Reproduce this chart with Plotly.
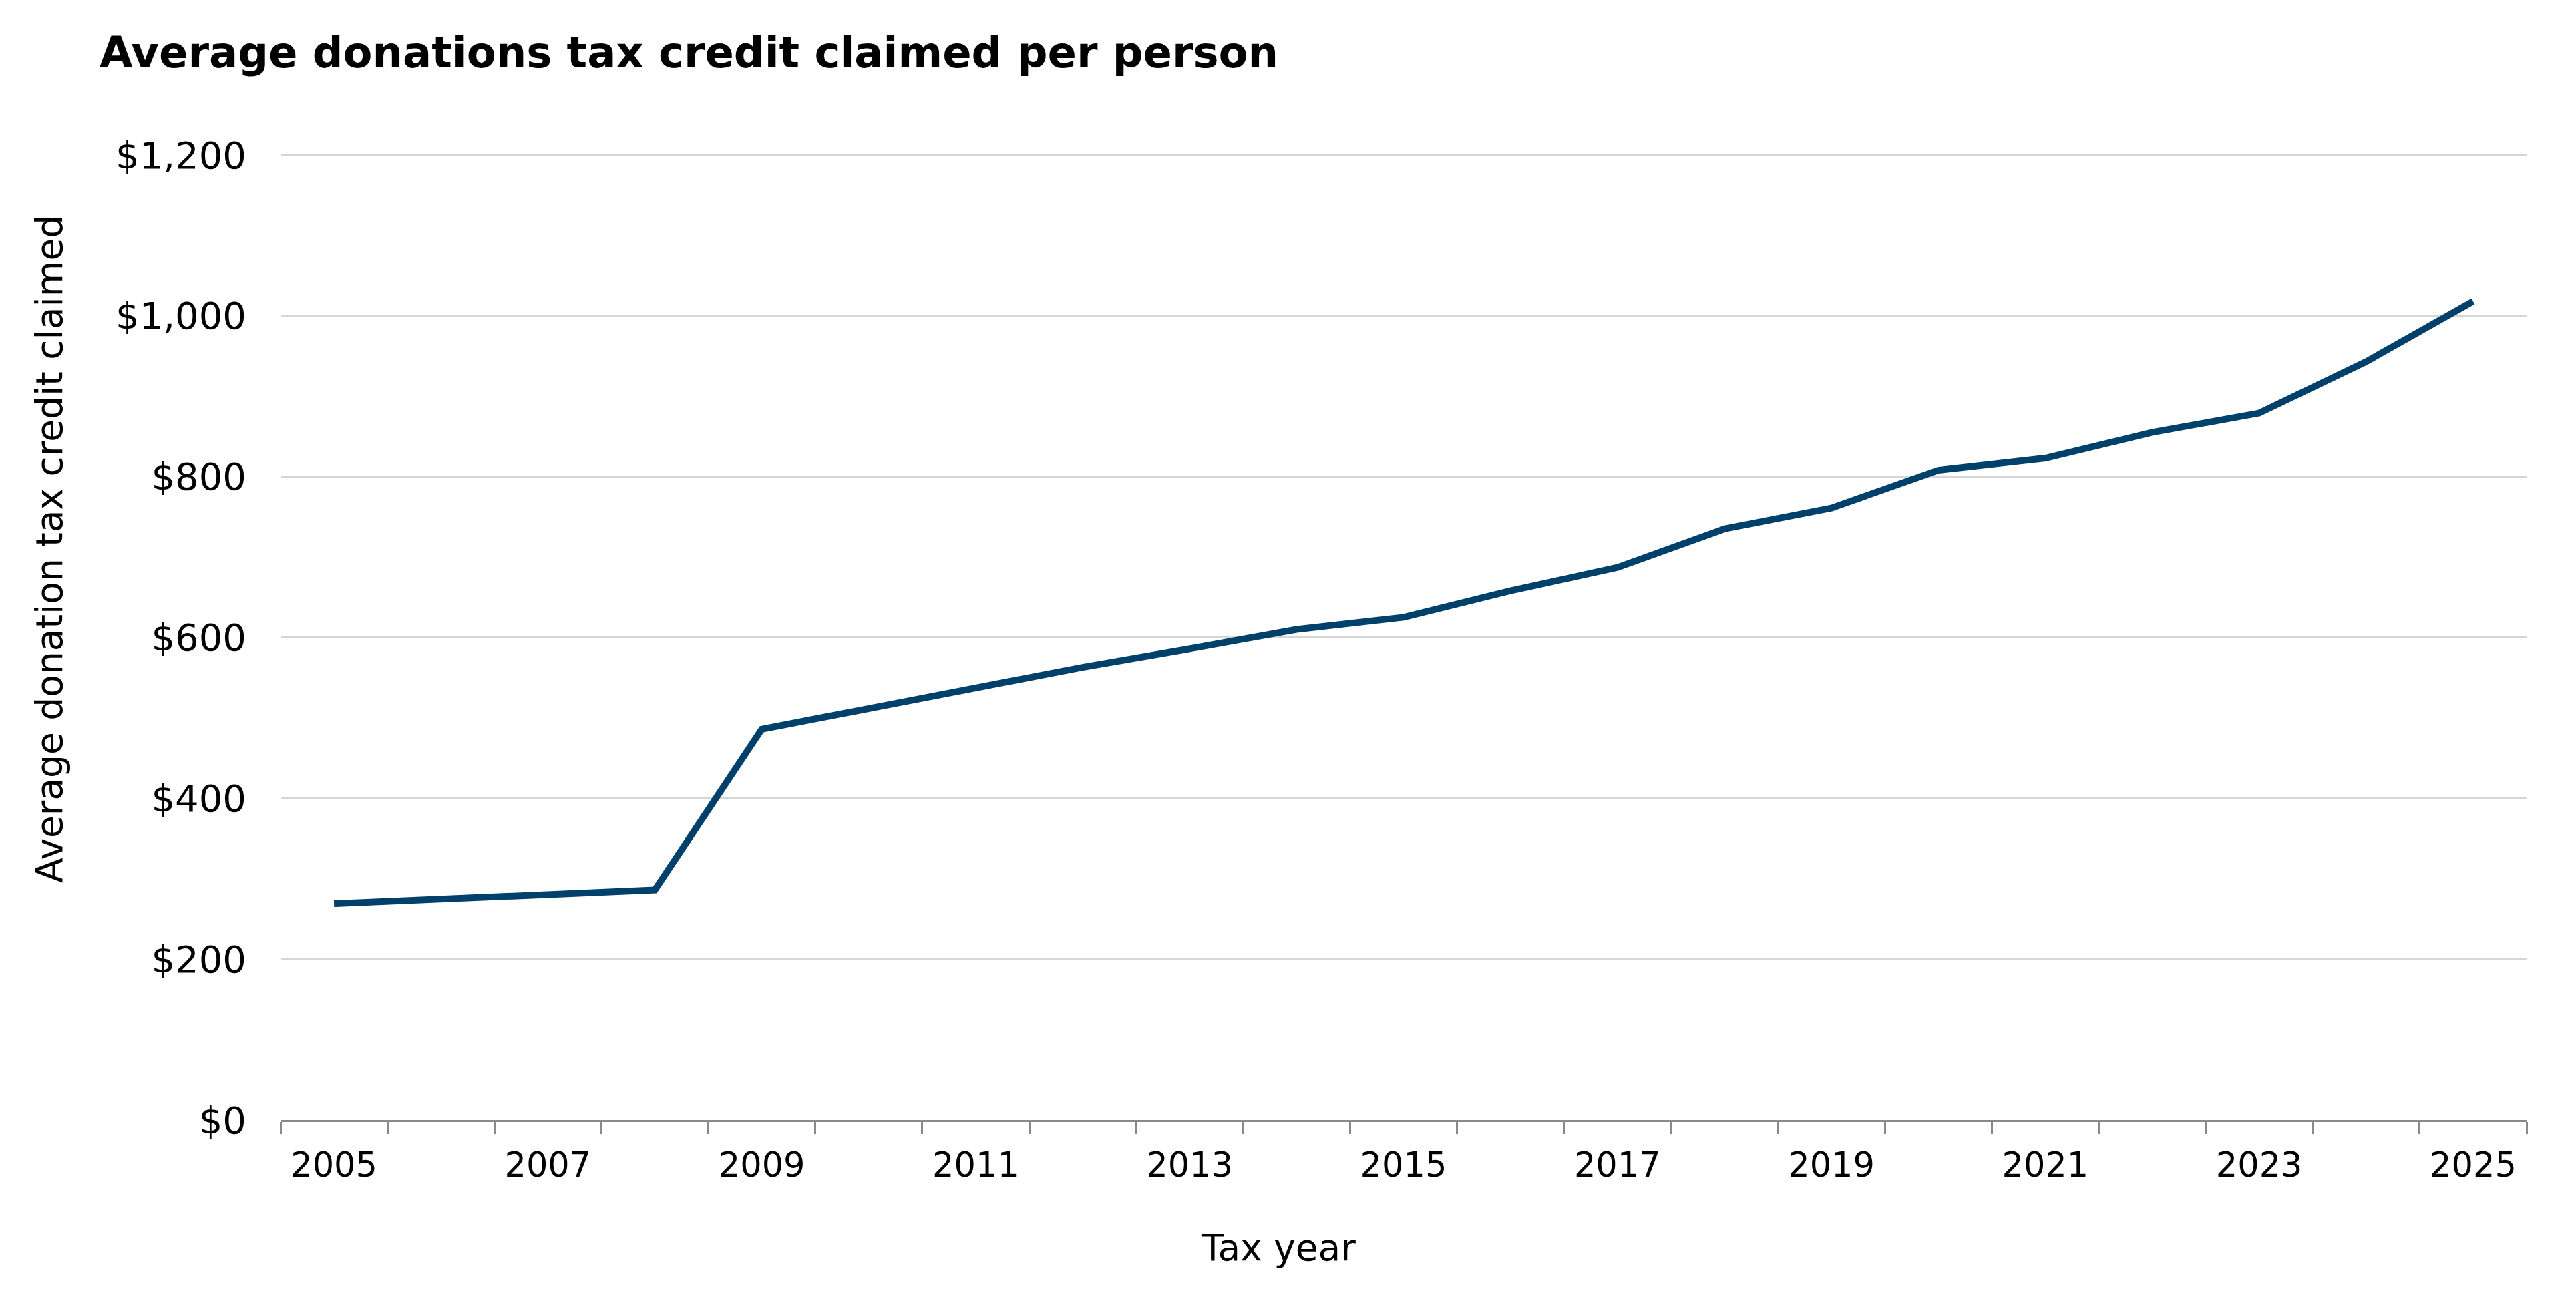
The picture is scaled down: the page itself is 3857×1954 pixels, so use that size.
import plotly.graph_objects as go

# Average donations tax credit claimed per person, by tax year
years = list(range(2005, 2026))
avg_credit = [269, 275, 280, 286, 486, 512, 537, 563, 586, 610, 625,
              658, 687, 735, 761, 808, 823, 855, 879, 943, 1018]

title = "Average donations tax credit claimed per person"
y_title = "Average donation tax credit claimed"
x_title = "Tax year"

font_family = "Verdana, DejaVu Sans, sans-serif"
W, H = 3857, 1954
OFF = 8  # page body margin in the browser
L, R, T, B = 420 - OFF, 74 + OFF, 226 - OFF, 277 + OFF

fig = go.Figure()
fig.add_trace(go.Scatter(
    x=years, y=avg_credit, mode="lines",
    line=dict(color="#00416b", width=10),
    hoverinfo="x+y",
))

fig.update_layout(
    width=W, height=H,
    margin=dict(l=L, r=R, t=T, b=B),
    paper_bgcolor="white", plot_bgcolor="white",
    showlegend=False,
    font=dict(family=font_family, color="black", size=55),
    title=dict(
        text="<b>" + title + "</b>",
        font=dict(size=64, family=font_family, color="black"),
        xref="container", x=(149 - OFF) / W, xanchor="left",
        yref="container", y=1 - (79 - OFF) / H, yanchor="middle",
    ),
)

fig.update_xaxes(
    range=[2004.5, 2025.5],
    tick0=2005, dtick=2,
    ticks="", showgrid=False,
    showline=True, linecolor="#898989", linewidth=3,
    tickfont=dict(size=51),
    ticklabelstandoff=21,
    minor=dict(tick0=2004.5, dtick=1, ticks="outside", ticklen=18,
               tickwidth=3, tickcolor="#898989", showgrid=False),
    zeroline=False,
)

fig.update_yaxes(
    range=[0, 1205], dtick=200,
    tickprefix="$", tickformat=",",
    showgrid=True, gridcolor="#d6d6d6", gridwidth=2.5,
    zeroline=False, showline=False, ticks="",
    tickfont=dict(size=56),
    ticklabelstandoff=50,
)

plot_w = W - L - R
plot_h = H - T - B
fig.add_annotation(
    text=y_title, textangle=-90, showarrow=False,
    xref="paper", yref="paper",
    x=(74 - OFF - L) / plot_w, y=(H - B - (822 - OFF)) / plot_h,
    xanchor="center", yanchor="middle",
    font=dict(size=55),
)
fig.add_annotation(
    text=x_title, showarrow=False,
    xref="paper", yref="paper",
    x=(1914 - OFF - L) / plot_w, y=(H - B - (1868 - OFF)) / plot_h,
    xanchor="center", yanchor="middle",
    font=dict(size=55),
)

fig.write_html("out.html")
